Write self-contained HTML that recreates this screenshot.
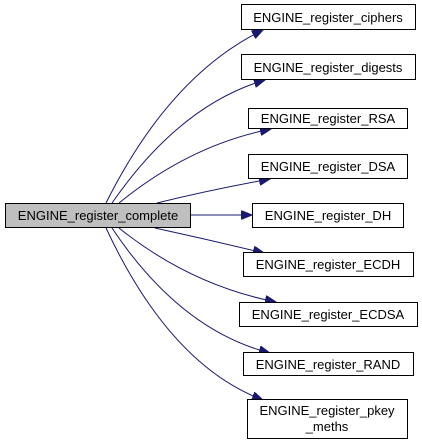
<!DOCTYPE html>
<html><head><style>
body{margin:0;background:#fff;width:422px;height:444px;overflow:hidden}
svg{display:block}
text{font-family:"Liberation Sans",sans-serif;font-size:13px;fill:#000}
</style></head><body>
<svg width="422" height="444" viewBox="0 0 422 444">
<defs><marker id="a" markerWidth="12" markerHeight="9" refX="11" refY="4.5" orient="auto" markerUnits="userSpaceOnUse"><path d="M0,0 L11,4.5 L0,9 z" fill="#191970" stroke="#191970"/></marker></defs>
<g fill="none" stroke="#191970" stroke-width="1" marker-end="url(#a)">
<path d="M106,203 Q170,75 263,30"/>
<path d="M112,203 Q180,105 265,80"/>
<path d="M119,203 Q190,145 271,129"/>
<path d="M157,203 Q210,190 270,179"/>
<path d="M191,215 L252,215"/>
<path d="M155,228 Q210,240 264,253"/>
<path d="M119,228 Q190,285 276,302"/>
<path d="M112,228 Q180,330 270,353"/>
<path d="M106,228 Q170,365 263,400"/>
</g>
<g stroke="#000" stroke-width="1" fill="#fff">
<rect x="5.5" y="203.5" width="185" height="24" fill="#bfbfbf"/>
<rect x="241.5" y="4.5" width="174" height="25"/>
<rect x="241.5" y="54.5" width="174" height="25"/>
<rect x="248.5" y="108.5" width="159" height="20"/>
<rect x="248.5" y="154.5" width="159" height="24"/>
<rect x="252.5" y="203.5" width="151" height="24"/>
<rect x="243.5" y="252.5" width="170" height="24"/>
<rect x="239.5" y="302.5" width="178" height="24"/>
<rect x="243.5" y="352.5" width="170" height="23"/>
<rect x="247.5" y="399.5" width="160" height="39"/>
</g>
<g text-anchor="middle">
<text x="98" y="220">ENGINE_register_complete</text>
<text x="328" y="22">ENGINE_register_ciphers</text>
<text x="328" y="72">ENGINE_register_digests</text>
<text x="328" y="123">ENGINE_register_RSA</text>
<text x="328" y="171">ENGINE_register_DSA</text>
<text x="328" y="220">ENGINE_register_DH</text>
<text x="328" y="269">ENGINE_register_ECDH</text>
<text x="328" y="319">ENGINE_register_ECDSA</text>
<text x="328" y="369">ENGINE_register_RAND</text>
<text x="327" y="415">ENGINE_register_pkey</text>
<text x="327" y="431">_meths</text>
</g>
</svg>
</body></html>
